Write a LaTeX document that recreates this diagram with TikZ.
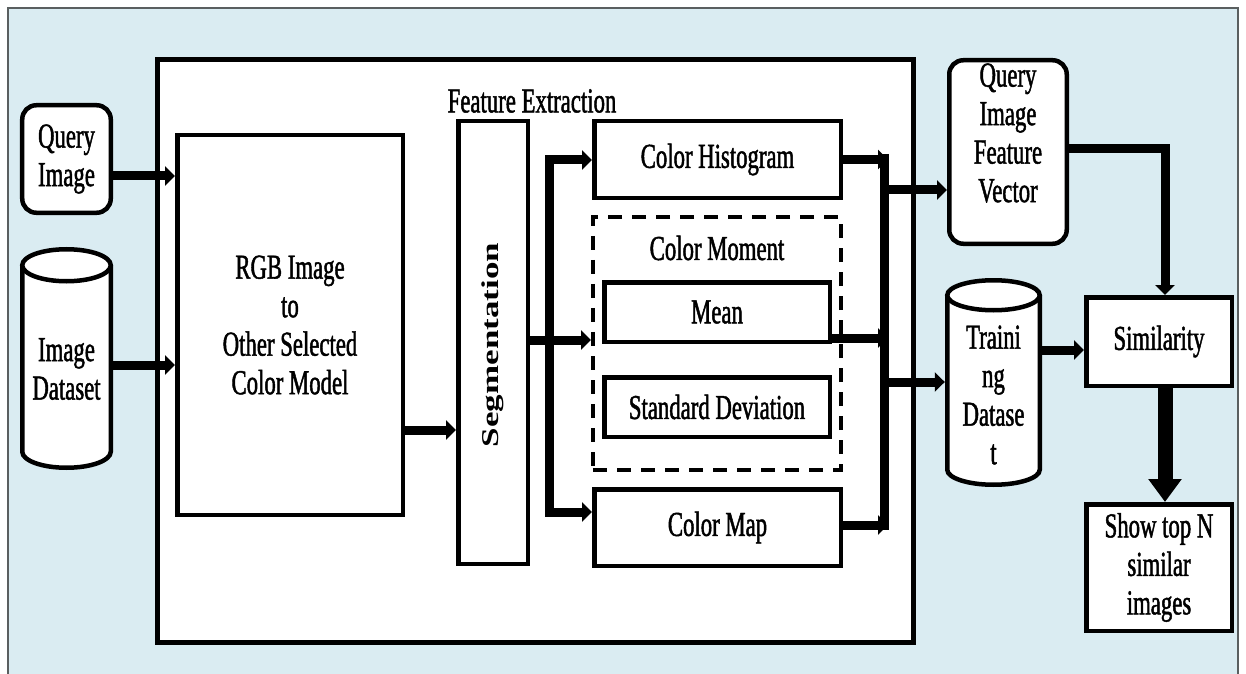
\documentclass[tikz,border=0pt]{standalone}
\usepackage{fontspec}
\setmainfont{Liberation Serif}[FakeStretch=0.65, FakeBold=1.3]
\newfontfamily\segfont{Liberation Serif}
\usepackage{graphicx}
\usetikzlibrary{arrows.meta}
\definecolor{panel}{HTML}{DAECF2}
\definecolor{rim}{HTML}{5A5F60}
\tikzset{
  box/.style={draw, line width=4.5bp, fill=white, inner sep=0pt, align=center},
  rbox/.style={box, rounded corners=14bp},
  dbox/.style={draw, line width=4bp, dash pattern=on 14bp off 10bp, inner sep=0pt},
  txt/.style={inner sep=0pt, align=center},
  cyl/.style={line width=4.5bp},
  arr/.style={line width=9bp, -{Triangle[length=10bp,width=19bp]}},
  arrs/.style={line width=9bp, line join=miter, {Triangle[length=10bp,width=19bp]}-{Triangle[length=10bp,width=19bp]}},
  busline/.style={line width=9bp},
  bigarr/.style={line width=15bp, -{Triangle[length=23bp,width=32bp]}}
}
\begin{document}
\begin{tikzpicture}[x=1bp, y=-1bp, font=\fontsize{35bp}{38.5bp}\selectfont]
\useasboundingbox (0,0) rectangle (1246,674);
% page and panel
\fill[white] (0,0) rectangle (1246,674);
\filldraw[fill=panel, draw=rim, line width=2bp] (8,8) rectangle (1238,690);

% large processing frame
\node[box, line width=5bp, minimum width=756bp, minimum height=583bp] (frame) at (535.5,351) {};

% inputs
\node[rbox, minimum width=88.5bp, minimum height=107.5bp] (qimg) at (66.5,159) {Query\\Image};

% image dataset cylinder
\fill[white] (22.25,265.25) -- (22.25,451.75) arc[start angle=180,end angle=360,x radius=44.25bp,y radius=16bp] -- (110.75,265.25) -- cycle;
\draw[cyl] (22.25,265.25) -- (22.25,451.75) arc[start angle=180,end angle=360,x radius=44.25bp,y radius=16bp] -- (110.75,265.25);
\filldraw[cyl, fill=white] (66.5,265.25) ellipse[x radius=44.25bp, y radius=16bp];
\node[txt, minimum width=93bp] (idata) at (66.5,369) {Image\\Dataset};

% colour conversion and segmentation
\node[box, minimum width=225.5bp, minimum height=379.5bp] (rgb) at (290,325) {RGB Image\\to\\Other Selected\\Color Model};
\node[box, minimum width=69.5bp, minimum height=442.5bp] (seg) at (493,342.5) {};
\node[rotate=90, inner sep=0pt] (segtxt) at (492.5,345) {\segfont\bfseries\scalebox{1}[0.69]{Segmentation}};
\node[txt] (fe) at (532,101) {Feature Extraction};

% feature blocks
\node[box, minimum width=246.5bp, minimum height=76.5bp] (ch) at (717.5,159.5) {\raisebox{-2bp}{Color Histogram}};
\node[dbox, minimum width=248bp, minimum height=253bp] (cm) at (717,343.5) {};
\node[txt] (cmlab) at (717,248) {Color Moment};
\node[box, minimum width=225.5bp, minimum height=59.5bp] (mean) at (717,312) {Mean};
\node[box, minimum width=225.5bp, minimum height=59.5bp] (sd) at (717,407) {Standard Deviation};
\node[box, minimum width=246.5bp, minimum height=76.5bp] (cmap) at (717.5,527.5) {Color Map};

% outputs
\node[rbox, minimum width=117.5bp, minimum height=183.5bp] (qifv) at (1008,152) {Query\\Image\\Feature\\Vector\\~};
\fill[white] (947.25,295.25) -- (947.25,469.75) arc[start angle=180,end angle=360,x radius=46.25bp,y radius=15bp] -- (1039.75,295.25) -- cycle;
\draw[cyl] (947.25,295.25) -- (947.25,469.75) arc[start angle=180,end angle=360,x radius=46.25bp,y radius=15bp] -- (1039.75,295.25);
\filldraw[cyl, fill=white] (993.5,295.25) ellipse[x radius=46.25bp, y radius=15bp];
\node[txt, minimum width=97bp] (train) at (993.5,395) {Traini\\ng\\Datase\\t};
\node[box, minimum width=145.5bp, minimum height=88.5bp] (sim) at (1159,341.5) {\raisebox{-5bp}{Similarity}};
\node[box, minimum width=145.5bp, minimum height=126.5bp] (show) at (1159,567.5) {Show top N\\similar\\images};

% bus points
\coordinate (lbus) at (549,340);
\coordinate (rbus) at (884,340);
\coordinate (rtip) at (888,340);
\coordinate (rbustop) at (884,154);
\coordinate (rbusbot) at (884,530);
\coordinate (drop) at (1165,149);

% connectors
\draw[arr] (qimg.east |- 0,176) -- (rgb.west |- 0,176);
\draw[arr] (idata.east |- 0,365) -- (rgb.west |- 0,365);
\draw[arr] (rgb.east |- 0,430) -- (seg.west |- 0,430);
\draw[arr] (seg.east |- 0,340) -- (cm.west |- 0,340);
\draw[arrs] (ch.west |- 0,160) -| (lbus) |- (cmap.west |- 0,512);
\draw[busline] (rbustop) -- (rbusbot);
\draw[arr] (ch.east) -- (ch.east -| rtip);
\draw[arr] (mean.east |- 0,338) -- (rtip |- 0,338);
\draw[arr] (cmap.east |- 0,525) -- (rtip |- 0,525);
\draw[arr] (rbus |- 0,190) -- (qifv.west |- 0,190);
\draw[arr] (rbus |- 0,382) -- (train.west |- 0,382);
\draw[arr] (qifv.east |- drop) -- (drop) -- (drop |- sim.north);
\draw[arr] (train.east |- 0,350) -- (sim.west |- 0,350);
\draw[bigarr] (drop |- sim.south) -- (drop |- show.north);
\end{tikzpicture}
\end{document}
